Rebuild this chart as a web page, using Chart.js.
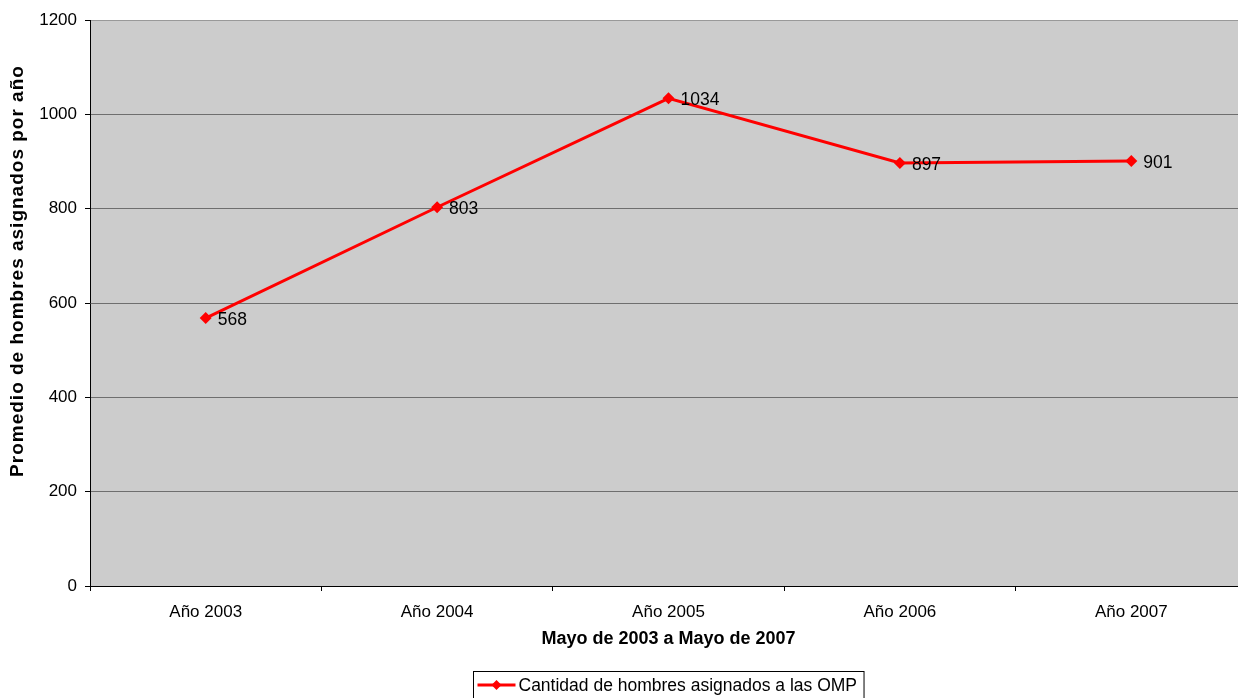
<!DOCTYPE html>
<html>
<head>
<meta charset="utf-8">
<script src="https://cdn.jsdelivr.net/npm/chart.js@4"></script>
<style>
  html, body { margin: 0; padding: 0; background: #fff; overflow: hidden; }
  canvas { display: block; }
</style>
</head>
<body>
<canvas id="chart" width="1253" height="698"></canvas>
<script>
// data
const years = ['Año 2003', 'Año 2004', 'Año 2005', 'Año 2006', 'Año 2007'];
const hombres = [568, 803, 1034, 897, 901];
const seriesLabel = 'Cantidad de hombres asignados a las OMP';
const yTitle = 'Promedio de hombres asignados por año';
const xTitle = 'Mayo de 2003 a Mayo de 2007';

const FONT = '"Liberation Sans", Arial, sans-serif';
const RED = '#ff0000';

// value labels to the right of each point
const pointLabels = {
    id: 'pointLabels',
    afterDatasetsDraw(chart) {
        const ctx = chart.ctx;
        const meta = chart.getDatasetMeta(0);
        ctx.save();
        ctx.font = '17.5px ' + FONT;
        ctx.fillStyle = '#000';
        ctx.textAlign = 'left';
        ctx.textBaseline = 'middle';
        meta.data.forEach((pt, i) => {
            ctx.fillText(String(chart.data.datasets[0].data[i]), pt.x + 12, pt.y + 2);
        });
        ctx.restore();
    }
};

// y title sits a bit above the plot centre in the original
const yTitleDraw = {
    id: 'yTitleDraw',
    afterDraw(chart) {
        const ctx = chart.ctx;
        ctx.save();
        ctx.translate(18, 271);
        ctx.rotate(-Math.PI / 2);
        ctx.font = 'bold 19px ' + FONT;
        if ('letterSpacing' in ctx) ctx.letterSpacing = '1px';
        ctx.fillStyle = '#000';
        ctx.textAlign = 'center';
        ctx.textBaseline = 'middle';
        ctx.fillText(yTitle, 0, 0);
        ctx.restore();
    }
};

// boxed legend under the axis title
const boxLegend = {
    id: 'boxLegend',
    afterDraw(chart) {
        const ctx = chart.ctx;
        const ds = chart.data.datasets[0];
        ctx.save();
        ctx.font = '17.5px ' + FONT;
        const tw = ctx.measureText(ds.label).width;
        const sample = 44;
        const w = sample + tw + 8;
        const h = 27;
        const cx = 668;
        const x = Math.round(cx - w / 2) + 0.5;
        const y = 671.5;
        ctx.strokeStyle = '#000';
        ctx.lineWidth = 1;
        ctx.strokeRect(x, y, w, h);
        const my = y + h / 2;
        ctx.strokeStyle = RED;
        ctx.lineWidth = 3;
        ctx.beginPath();
        ctx.moveTo(x + 4, my);
        ctx.lineTo(x + sample - 2, my);
        ctx.stroke();
        ctx.fillStyle = RED;
        const dx = x + 4 + (sample - 6) / 2;
        ctx.beginPath();
        ctx.moveTo(dx, my - 5);
        ctx.lineTo(dx + 5, my);
        ctx.lineTo(dx, my + 5);
        ctx.lineTo(dx - 5, my);
        ctx.closePath();
        ctx.fill();
        ctx.fillStyle = '#000';
        ctx.textBaseline = 'middle';
        ctx.fillText(ds.label, x + sample + 1, my + 1);
        ctx.restore();
    }
};

// grey plot background
const plotBg = {
    id: 'plotBg',
    beforeDraw(chart) {
        const a = chart.chartArea;
        const ctx = chart.ctx;
        ctx.save();
        ctx.fillStyle = '#cccccc';
        ctx.fillRect(a.left, a.top, a.right - a.left, a.bottom - a.top);
        ctx.restore();
    }
};

new Chart(document.getElementById('chart'), {
    type: 'line',
    data: {
        labels: years,
        datasets: [{
            label: seriesLabel,
            data: hombres,
            borderColor: RED,
            backgroundColor: RED,
            borderWidth: 3,
            pointStyle: 'rectRot',
            pointRadius: 6,
            pointBorderWidth: 0,
            pointBackgroundColor: RED,
            tension: 0
        }]
    },
    options: {
        responsive: false,
        animation: false,
        devicePixelRatio: 1,
        layout: { padding: { top: 20, right: 0, bottom: 0, left: 0 } },
        plugins: {
            legend: { display: false },
            tooltip: { enabled: false }
        },
        scales: {
            x: {
                offset: true,
                grid: {
                    offset: true,
                    drawOnChartArea: false,
                    tickLength: 5,
                    tickColor: '#000'
                },
                border: { color: '#000', width: 1 },
                ticks: {
                    color: '#000',
                    font: { family: FONT, size: 17 },
                    padding: 11,
                    maxRotation: 0
                },
                title: {
                    display: true,
                    text: xTitle,
                    color: '#000',
                    font: { family: FONT, size: 18, weight: 'bold' },
                    padding: { top: 8, bottom: 48 }
                },
                afterFit(scale) { scale.height = 112; }
            },
            y: {
                min: 0,
                max: 1200,
                ticks: {
                    stepSize: 200,
                    color: '#000',
                    font: { family: FONT, size: 17 },
                    padding: 8,
                    callback: v => String(v)
                },
                grid: {
                    color: ctx => ctx.tick && ctx.tick.value === 1200 ? '#999999' : (ctx.tick && ctx.tick.value === 0 ? '#000' : '#6e6e6e'),
                    tickColor: '#000',
                    tickLength: 5
                },
                border: { color: '#000', width: 1 },
                title: { display: false, text: yTitle },
                afterFit(scale) { scale.width = 90; }
            }
        }
    },
    plugins: [plotBg, pointLabels, yTitleDraw, boxLegend]
});
</script>
</body>
</html>
